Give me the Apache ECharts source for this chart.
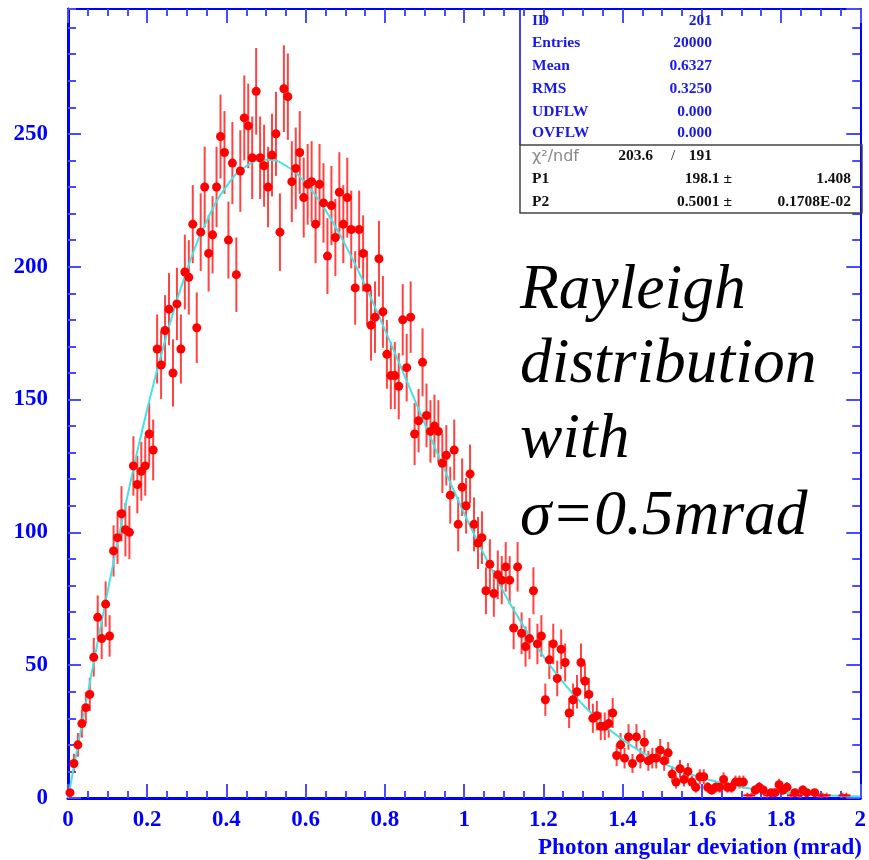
<!DOCTYPE html>
<html><head><meta charset="utf-8">
<script src="https://cdn.jsdelivr.net/npm/echarts@6/dist/echarts.min.js"></script>
<style>html,body{margin:0;padding:0;background:#fff}#c{width:869px;height:860px}</style>
</head><body><div id="c"></div>
<script>
// ---- data ----
const xMin = 0, xMax = 2, nBins = 200;
const counts = [
  2,13,20,28,34,39,53,68,60,73,
  61,93,98,107,101,100,125,118,123,125,
  137,131,169,163,176,184,160,186,169,198,
  196,216,177,213,230,205,212,230,249,243,
  210,239,197,236,256,253,241,266,241,238,
  230,242,250,213,267,264,232,237,243,226,
  231,232,216,231,224,204,223,211,228,216,
  226,214,192,214,205,192,178,181,203,183,
  167,159,159,155,180,162,181,137,142,164,
  144,138,140,138,126,129,114,131,103,117,
  110,122,103,96,98,78,88,77,84,82,
  87,82,64,87,62,57,60,78,58,61,
  37,52,58,45,56,51,32,37,40,51,
  44,39,30,31,27,27,28,32,16,20,
  15,23,13,23,15,21,14,15,15,18,
  14,17,9,6,11,7,10,6,4,8,
  8,4,3,4,4,7,4,4,6,6,
  6,1,1,3,4,3,1,2,2,5,
  3,4,1,2,1,3,2,null,2,1,
  1,1,null,null,null,1,1,null,null,null
];
const fitX = [0,0.05,0.1,0.15,0.2,0.25,0.3,0.35,0.4,0.45,0.5,0.55,0.6,0.65,0.7,0.75,0.8,0.85,0.9,0.95,1.0,
  1.05,1.1,1.15,1.2,1.25,1.3,1.35,1.4,1.45,1.5,1.55,1.6,1.65,1.7,1.75,1.8,1.85,1.9,1.95,2.0];
const fitY = [0,39.4,77.7,113.6,146.3,174.8,198.6,217.1,230.2,237.8,240.3,238.0,231.4,221.3,208.2,193.0,176.2,158.8,141.1,123.8,107.2,
  91.8,77.5,64.7,53.4,43.5,35.1,27.9,22.0,17.1,13.2,10.1,7.6,5.65,4.16,3.04,2.19,1.56,1.10,0.77,0.53];
const statLabels = ['ID','Entries','Mean','RMS','UDFLW','OVFLW'];
const statValues = ['201','20000','0.6327','0.3250','0.000','0.000'];
const chi2Value = '203.6', ndfValue = '191';
const parNames = ['P1','P2'];
const parValues = ['198.1','0.5001'];
const parErrors = ['1.408','0.1708E-02'];
const annotationLines = ['Rayleigh','distribution','with','\u03C3=0.5mrad'];
const xTitle = 'Photon angular deviation (mrad)';
const yMax = 297;

// ---- build ----
const binW = (xMax - xMin) / nBins;
const pts = [];
counts.forEach((v, i) => { if (v !== null) pts.push([xMin + (i + 0.5) * binW, v, Math.sqrt(v)]); });
const fitData = fitX.map((x, i) => [x, fitY[i]]);

const BLUE = '#0000FF', TICK = '#4a4aff';
const serif = 'Liberation Serif';

function yAx(pos, interval, len, showLine, showLabel, lw) {
  return {
    type: 'value', position: pos, min: 0, max: yMax, interval: interval,
    axisLine: { show: showLine, lineStyle: { color: BLUE, width: lw } },
    axisTick: { show: true, inside: true, length: len, lineStyle: { color: TICK, width: 2 } },
    axisLabel: { show: showLabel, showMaxLabel: false, margin: 20, color: BLUE,
      fontFamily: serif, fontWeight: 'bold', fontSize: 23 },
    splitLine: { show: false }
  };
}
function xAx(pos, showLabel, lw) {
  return {
    type: 'value', position: pos, min: xMin, max: xMax, interval: 0.2,
    axisLine: { show: true, onZero: false, lineStyle: { color: BLUE, width: lw } },
    axisTick: { show: true, inside: true, length: 14, lineStyle: { color: TICK, width: 2 } },
    minorTick: { show: true, splitNumber: 4, length: 7, lineStyle: { color: TICK, width: 2 } },
    axisLabel: { show: showLabel, margin: 11, color: BLUE, fontFamily: serif, fontWeight: 'bold', fontSize: 23,
      formatter: v => String(+v.toFixed(1)) },
    splitLine: { show: false }
  };
}

const graphics = [];
// stats box
graphics.push({ type: 'line', shape: { x1: 520, y1: 9, x2: 520, y2: 145 }, style: { stroke: BLUE, lineWidth: 1.5 }, z: 100 });
graphics.push({ type: 'rect', shape: { x: 520, y: 145, width: 342, height: 68 }, style: { fill: 'none', stroke: '#444', lineWidth: 1.5 }, z: 100 });
const statY = [20.7, 43.3, 66, 89, 111.7, 133.3];
statLabels.forEach((s, i) => {
  graphics.push({ type: 'text', x: 532, y: statY[i], z: 101, style: { text: s, fill: '#1a1ae6', font: 'bold 15.5px "Liberation Serif"', textAlign: 'left', textVerticalAlign: 'middle' } });
  graphics.push({ type: 'text', x: 712, y: statY[i], z: 101, style: { text: statValues[i], fill: '#1a1ae6', font: 'bold 15.5px "Liberation Serif"', textAlign: 'right', textVerticalAlign: 'middle' } });
});
graphics.push({ type: 'text', x: 532, y: 157, z: 101, style: { text: '\u03C7\u00B2/ndf', fill: '#8a8a8a', font: '16px "DejaVu Sans"', textAlign: 'left', textVerticalAlign: 'middle' } });
graphics.push({ type: 'text', x: 653, y: 156, z: 101, style: { text: chi2Value, fill: '#111', font: 'bold 15.5px "Liberation Serif"', textAlign: 'right', textVerticalAlign: 'middle' } });
graphics.push({ type: 'text', x: 673, y: 156, z: 101, style: { text: '/', fill: '#111', font: '15px "Liberation Serif"', textAlign: 'center', textVerticalAlign: 'middle' } });
graphics.push({ type: 'text', x: 712, y: 156, z: 101, style: { text: ndfValue, fill: '#111', font: 'bold 15.5px "Liberation Serif"', textAlign: 'right', textVerticalAlign: 'middle' } });
const parY = [179.3, 202];
parNames.forEach((p, i) => {
  graphics.push({ type: 'text', x: 532, y: parY[i], z: 101, style: { text: p, fill: '#111', font: 'bold 15.5px "Liberation Serif"', textAlign: 'left', textVerticalAlign: 'middle' } });
  graphics.push({ type: 'text', x: 732, y: parY[i], z: 101, style: { text: parValues[i] + ' \u00B1', fill: '#111', font: 'bold 15.5px "Liberation Serif"', textAlign: 'right', textVerticalAlign: 'middle' } });
  graphics.push({ type: 'text', x: 851, y: parY[i], z: 101, style: { text: parErrors[i], fill: '#111', font: 'bold 15.5px "Liberation Serif"', textAlign: 'right', textVerticalAlign: 'middle' } });
});
// annotation
const annY = [291, 365, 440, 517];
annotationLines.forEach((t, i) => {
  graphics.push({ type: 'text', x: 520, y: annY[i], z: 101, style: { text: t, fill: '#000', font: 'italic 63.5px "Liberation Serif"', textAlign: 'left', textVerticalAlign: 'middle' } });
});
// x title
graphics.push({ type: 'text', x: 862, y: 848, z: 101, style: { text: xTitle, fill: BLUE, font: 'bold 23px "Liberation Serif"', textAlign: 'right', textVerticalAlign: 'middle' } });

const chart = echarts.init(document.getElementById('c'), null, { renderer: 'canvas' });
chart.setOption({
  animation: false,
  backgroundColor: '#fff',
  grid: { left: 68, right: 7, top: 9, bottom: 62, containLabel: false },
  xAxis: [xAx('bottom', true, 3), xAx('top', false, 2)],
  yAxis: [yAx('left', 50, 13, true, true, 3), yAx('left', 10, 8, false, false, 3),
          yAx('right', 50, 14, true, false, 2), yAx('right', 10, 8, false, false, 2)],
  series: [
    {
      type: 'custom', xAxisIndex: 0, yAxisIndex: 0, z: 2,
      renderItem: function (params, api) {
        const x = api.value(0), v = api.value(1), e = api.value(2);
        const p1 = api.coord([x, v - e]), p2 = api.coord([x, v + e]);
        return { type: 'line', shape: { x1: p1[0], y1: p1[1], x2: p2[0], y2: p2[1] },
          style: { stroke: 'rgba(255,20,20,0.8)', lineWidth: 2 } };
      },
      data: pts
    },
    {
      type: 'line', xAxisIndex: 0, yAxisIndex: 0, z: 3, smooth: true, symbol: 'none',
      lineStyle: { color: '#45e3e3', width: 2 }, data: fitData
    },
    {
      type: 'scatter', xAxisIndex: 0, yAxisIndex: 0, z: 4,
      itemStyle: { color: '#ff0000', opacity: 1 },
      data: pts.map(p => p[1] <= 1
        ? { value: [p[0], p[1]], symbol: 'rect', symbolSize: [8, 2] }
        : { value: [p[0], p[1]], symbol: 'circle', symbolSize: 9 })
    }
  ],
  graphic: graphics
});
</script>
</body></html>
